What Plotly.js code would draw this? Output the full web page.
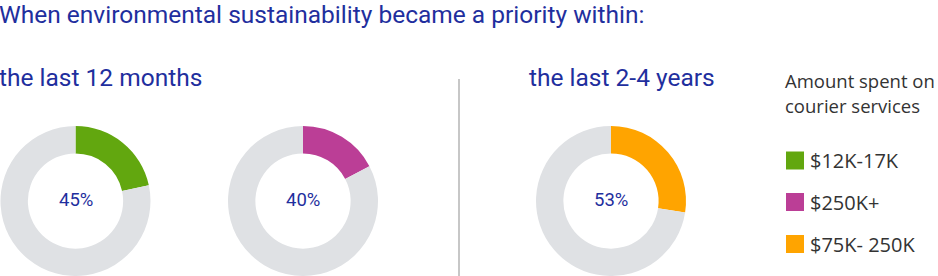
<!DOCTYPE html>
<html>
<head>
<meta charset="utf-8">
<script src="https://cdn.plot.ly/plotly-3.0.1.min.js"></script>
<style>
  html, body { margin: 0; padding: 0; background: #fff; }
  #chart { width: 938px; height: 276px; }
</style>
</head>
<body>
<div id="chart"></div>
<script>
// Share of respondents per spend band, and the grey remainder of each ring
const bands = ['$12K-17K', '$250K+', '$75K- 250K'];
const shares = [45, 40, 53];
const remainders = [163, 191, 140];
const shareLabels = ['45%', '40%', '53%'];
const bandColors = ['#62a70f', '#bb3e96', '#ffa400'];
const periods = ['the last 12 months', 'the last 2-4 years'];

const W = 938, H = 276;
const BLUE = '#1f2f9e';
const GREY = '#dfe1e4';
const INK = '#333333';

// ring placement (pixel boxes converted to paper fractions)
const rings = [
  { x0: 0.5, x1: 150.5 },
  { x0: 228, x1: 378 },
  { x0: 536, x1: 686 }
];
const ringTop = 126, ringBottom = 276;

const px = x => x / W;
const py = y => 1 - y / H;

const traces = shares.map((v, i) => ({
  type: 'pie',
  values: [v, remainders[i]],
  labels: [bands[i], 'other'],
  marker: { colors: [bandColors[i], GREY], line: { width: 0 } },
  hole: 0.635,
  sort: false,
  direction: 'clockwise',
  rotation: 0,
  textinfo: 'none',
  hoverinfo: 'none',
  showlegend: false,
  domain: { x: [px(rings[i].x0), px(rings[i].x1)], y: [py(ringBottom), py(ringTop)] }
}));

const annotations = [];
const txt = (text, x, y, size, color, family, anchor) => annotations.push({
  text, xref: 'paper', yref: 'paper', x: px(x), y: py(y),
  xanchor: anchor || 'left', yanchor: 'middle', showarrow: false,
  borderpad: 0,
  font: { size, color, family }
});

txt('When environmental sustainability became a priority within:', -2, 14, 24.5, BLUE, 'Roboto');
txt(periods[0], -2, 78, 24.5, BLUE, 'Roboto');
txt(periods[1], 528, 78, 24.5, BLUE, 'Roboto');

shares.forEach((v, i) => {
  txt(shareLabels[i], (rings[i].x0 + rings[i].x1) / 2, 200, 18.5, BLUE, 'Roboto', 'center');
});

// legend block
txt('Amount spent on', 784, 81, 18.5, INK, 'Open Sans');
txt('courier services', 784, 106, 18.5, INK, 'Open Sans');
const legendY = [160.5, 202, 244];
const shapes = [];
bands.forEach((b, i) => {
  shapes.push({
    type: 'rect', xref: 'paper', yref: 'paper',
    x0: px(786), x1: px(804), y0: py(legendY[i] + 9), y1: py(legendY[i] - 9),
    fillcolor: bandColors[i], line: { width: 0 }
  });
  txt(b, 809, legendY[i], 20, INK, 'Open Sans');
});

// divider between the two periods
shapes.push({
  type: 'line', xref: 'paper', yref: 'paper',
  x0: px(459), x1: px(459), y0: py(79), y1: 0,
  line: { color: '#b4b4b4', width: 1.5 }
});

Plotly.newPlot('chart', traces, {
  width: W, height: H,
  margin: { l: 0, r: 0, t: 0, b: 0 },
  paper_bgcolor: '#ffffff',
  showlegend: false,
  annotations, shapes
}, { staticPlot: true, displayModeBar: false });
</script>
</body>
</html>
